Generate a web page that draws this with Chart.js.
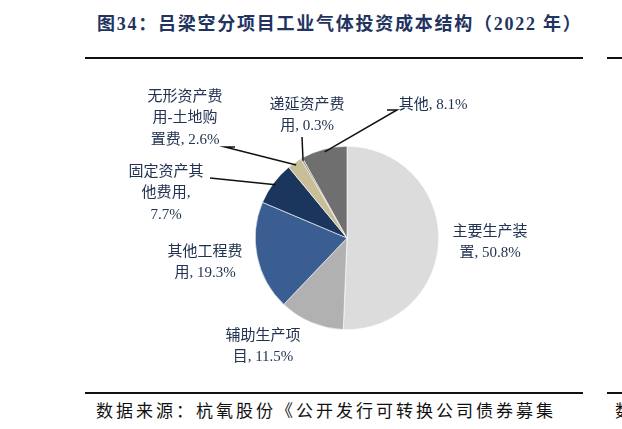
<!DOCTYPE html>
<html>
<head>
<meta charset="utf-8">
<script src="https://cdn.jsdelivr.net/npm/chart.js@4.4.0/dist/chart.umd.min.js"></script>
<style>
  body { margin: 0; background: #fff; width: 622px; height: 429px; overflow: hidden; position: relative; }
  #title { position: absolute; left: 97px; top: 9px; font: bold 18px "Liberation Serif", "Noto Sans CJK SC", serif; letter-spacing: 1.75px; color: #1f3460; white-space: nowrap; }
  .rule { position: absolute; height: 2px; background: #111; }
  #source { position: absolute; left: 96px; top: 397px; font: 17px "Liberation Serif", "Noto Sans CJK SC", serif; letter-spacing: 3px; color: #111; white-space: nowrap; }
  #source2 { position: absolute; left: 615px; top: 397px; font: 17px "Liberation Serif", "Noto Sans CJK SC", serif; color: #111; white-space: nowrap; }
  #wrap { position: absolute; left: 0; top: 0; width: 622px; height: 429px; }
</style>
</head>
<body>
<div id="title">图34：吕梁空分项目工业气体投资成本结构（2022 年）</div>
<div class="rule" style="left:85px;top:57px;width:498px"></div>
<div class="rule" style="left:607px;top:57px;width:15px"></div>
<div class="rule" style="left:85px;top:392px;width:498px"></div>
<div class="rule" style="left:607px;top:392px;width:15px"></div>
<div id="source">数据来源：杭氧股份《公开发行可转换公司债券募集</div>
<div id="source2">数据来源</div>
<div id="wrap"><canvas id="myChart" width="622" height="429"></canvas></div>
<script>
const categories = ['主要生产装置', '辅助生产项目', '其他工程费用', '固定资产其他费用', '无形资产费用-土地购置费', '递延资产费用', '其他']
const shares = [50.8, 11.5, 19.3, 7.7, 2.6, 0.3, 8.1]
const labelLines = [
    ['主要生产装', '置, 50.8%'],
    ['辅助生产项', '目, 11.5%'],
    ['其他工程费', '用, 19.3%'],
    ['固定资产其', '他费用,', '7.7%'],
    ['无形资产费', '用-土地购', '置费, 2.6%'],
    ['递延资产费', '用, 0.3%'],
    ['其他, 8.1%']
]
const colors = ['#dcdcdc', '#b1b1b1', '#3a5e91', '#1b365c', '#c8bf98', '#8a8468', '#6f6f6f']

// where each label sits, relative to the pie centre (dx, dy of first line), and leader line elbows
const layout = [
    { dx: 143, dy: -6 },
    { dx: -84, dy: 98 },
    { dx: -142, dy: 14 },
    { dx: -181, dy: -66, line: [[-137, -60]] },
    { dx: -162, dy: -141, line: [[-122, -91], [-112, -91]] },
    { dx: -40, dy: -133, line: [[-45, -101]] },
    { dx: 86, dy: -133, line: [[50, -128], [40, -128]] }
]

const pieLabels = {
    id: 'pieLabels',
    afterDraw(chart) {
        const ctx = chart.ctx
        const arcs = chart.getDatasetMeta(0).data
        ctx.save()
        arcs.forEach((arc, i) => {
            const p = arc.getProps(['x', 'y', 'startAngle', 'endAngle', 'outerRadius'], true)
            const lay = layout[i]
            if (lay.line) {
                const mid = (p.startAngle + p.endAngle) / 2
                const ax = p.x + Math.cos(mid) * p.outerRadius * 0.97
                const ay = p.y + Math.sin(mid) * p.outerRadius * 0.97
                ctx.beginPath()
                ctx.strokeStyle = '#111'
                ctx.lineWidth = 1.5
                ctx.moveTo(ax, ay)
                for (let pt of lay.line) ctx.lineTo(p.x + pt[0], p.y + pt[1])
                ctx.stroke()
            }
            ctx.fillStyle = '#223352'
            ctx.font = '15px "Liberation Serif", "Noto Sans CJK SC", serif'
            ctx.textAlign = 'center'
            ctx.textBaseline = 'middle'
            labelLines[i].forEach((t, k) => {
                ctx.fillText(t, p.x + lay.dx, p.y + lay.dy + k * 21.5)
            })
        })
        ctx.restore()
    }
}

const ctx = document.getElementById('myChart').getContext('2d')
const myChart = new Chart(ctx, {
    type: 'pie',
    data: {
        labels: categories,
        datasets: [{
            data: shares,
            backgroundColor: colors,
            borderColor: '#ffffff',
            borderWidth: 0.6
        }]
    },
    options: {
        responsive: false,
        animation: false,
        layout: { padding: { left: 255, right: 183, top: 146, bottom: 99 } },
        plugins: {
            legend: { display: false },
            tooltip: { enabled: false }
        }
    },
    plugins: [pieLabels]
})
</script>
</body>
</html>
